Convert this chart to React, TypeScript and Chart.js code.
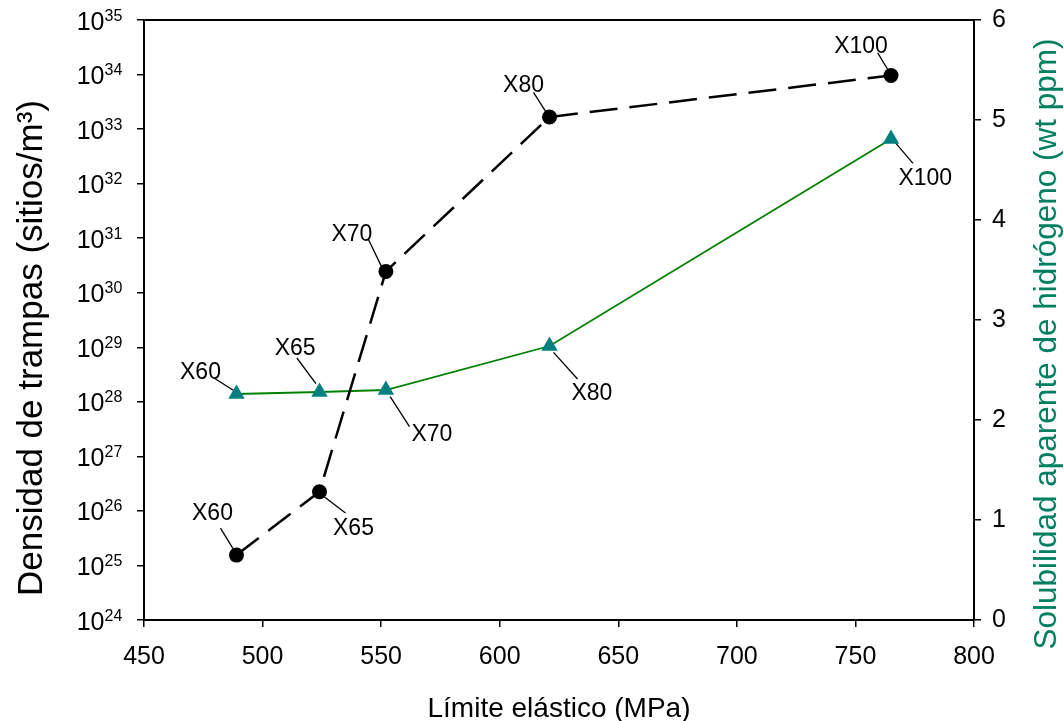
import React, { useEffect, useRef } from 'react';
import { Chart, registerables } from 'chart.js';

Chart.register(...registerables);

// ---- data ----
const grades = ['X60', 'X65', 'X70', 'X80', 'X100'];
const yieldStrengthMPa = [489, 524, 552, 621, 765];
const trapDensity = [1.55e25, 2.25e26, 2.46e30, 1.67e33, 9.6e33];
const hydrogenSolubility = [2.26, 2.28, 2.3, 2.74, 4.81];

const xTicks = [450, 500, 550, 600, 650, 700, 750, 800];
const densityExponents = [24, 25, 26, 27, 28, 29, 30, 31, 32, 33, 34, 35];
const solubilityTicks = [0, 1, 2, 3, 4, 5, 6];

const xTitle = 'Límite elástico (MPa)';
const densityTitle = 'Densidad de trampas (sitios/m³)';
const solubilityTitle = 'Solubilidad aparente de hidrógeno (wt ppm)';

// ---- callout placement (pixels relative to marker): [labelDx, labelDy, leadX1, leadY1, leadX2, leadY2]
const densityCallouts = [
  [-24, -43, -16, -27, -3.5, -6.5],
  [34, 35, 5, 5.3, 26, 21.3],
  [-34, -39, -17.7, -32.4, -4, -4],
  [-26, -33, -16, -24.6, -3.3, -4.5],
  [-30, -31, -13.3, -22.7, -3.3, -6],
];
const solubilityCallouts = [
  [-36, -23.5, -21.7, -15.5, -2, -3],
  [-24.3, -45, -22.6, -34, -3.6, -8.3],
  [46, 42.3, 4.3, 6.7, 23.6, 36.7],
  [42.4, 45.4, 4, 6.4, 28, 33],
  [34.3, 37.7, 4.3, 3.7, 22, 24.3],
];

const FONT = '"Liberation Sans", Arial, Helvetica, sans-serif';
const GREEN_TITLE = '#008060';

const calloutPlugin = {
  id: 'callouts',
  beforeDatasetsDraw(chart: any) {
    const { ctx, scales } = chart;
    ctx.save();
    ctx.strokeStyle = '#000';
    ctx.lineWidth = 1.3;
    ctx.setLineDash([]);
    const leaders = (vals: number[], axis: string, callouts: number[][]) => {
      vals.forEach((v, i) => {
        const px = scales.x.getPixelForValue(yieldStrengthMPa[i]);
        const py = scales[axis].getPixelForValue(v);
        const c = callouts[i];
        ctx.beginPath();
        ctx.moveTo(px + c[2], py + c[3]);
        ctx.lineTo(px + c[4], py + c[5]);
        ctx.stroke();
      });
    };
    leaders(trapDensity, 'y', densityCallouts);
    leaders(hydrogenSolubility, 'y1', solubilityCallouts);
    ctx.restore();
  },
  afterDraw(chart: any) {
    const { ctx, scales, chartArea } = chart;
    ctx.save();
    // top frame line
    ctx.strokeStyle = '#000';
    ctx.lineWidth = 2;
    ctx.beginPath();
    ctx.moveTo(chartArea.left, chartArea.top);
    ctx.lineTo(chartArea.right, chartArea.top);
    ctx.stroke();

    // callout labels
    ctx.fillStyle = '#000';
    ctx.font = `23px ${FONT}`;
    ctx.textAlign = 'center';
    ctx.textBaseline = 'alphabetic';
    const labels = (vals: number[], axis: string, callouts: number[][]) => {
      vals.forEach((v, i) => {
        const px = scales.x.getPixelForValue(yieldStrengthMPa[i]);
        const py = scales[axis].getPixelForValue(v);
        const c = callouts[i];
        ctx.fillText(grades[i], px + c[0], py + c[1] + 0.358 * 23);
      });
    };
    labels(trapDensity, 'y', densityCallouts);
    labels(hydrogenSolubility, 'y1', solubilityCallouts);

    // log tick labels 10^n
    densityExponents.forEach((e) => {
      const y = scales.y.getPixelForValue(Math.pow(10, e));
      ctx.font = `25px ${FONT}`;
      ctx.textAlign = 'right';
      ctx.fillText('10', 104.5, y + 9.5);
      ctx.font = `16px ${FONT}`;
      ctx.textAlign = 'left';
      ctx.fillText(String(e), 104.5, y + 0.5);
    });

    // x title
    ctx.font = `28px ${FONT}`;
    ctx.textAlign = 'center';
    ctx.fillText(xTitle, (chartArea.left + chartArea.right) / 2, 717);

    // left title
    ctx.save();
    ctx.font = `35px ${FONT}`;
    ctx.translate(31 + 0.358 * 32, 348);
    ctx.rotate(-Math.PI / 2);
    ctx.textAlign = 'center';
    ctx.fillText(densityTitle, 0, 0);
    ctx.restore();

    // right title
    ctx.save();
    ctx.font = `31.5px ${FONT}`;
    ctx.fillStyle = GREEN_TITLE;
    ctx.translate(1045 + 0.358 * 31, 344);
    ctx.rotate(-Math.PI / 2);
    ctx.textAlign = 'center';
    ctx.fillText(solubilityTitle, 0, 0);
    ctx.restore();

    ctx.restore();
  },
};

const gridOpts = {
  display: true,
  drawOnChartArea: false,
  drawTicks: true,
  tickLength: 7,
  color: '#000',
  lineWidth: 1.5,
};
const borderOpts = { display: true, color: '#000', width: 2 };

const noPadding = (s: any) => {
  s.paddingTop = 0;
  s.paddingBottom = 0;
  s.paddingLeft = 0;
  s.paddingRight = 0;
};

export default function App() {
  const ref = useRef<HTMLCanvasElement>(null);
  useEffect(() => {
    const chart = new Chart(ref.current as HTMLCanvasElement, {
      type: 'line',
      data: {
        datasets: [
          {
            label: 'Densidad de trampas',
            data: yieldStrengthMPa.map((x, i) => ({ x, y: trapDensity[i] })),
            yAxisID: 'y',
            borderColor: '#000',
            backgroundColor: '#000',
            borderWidth: 2.5,
            borderDash: [28, 12],
            pointStyle: 'circle',
            pointRadius: 7.5,
            pointHoverRadius: 7.5,
            pointBackgroundColor: '#000',
            pointBorderColor: '#000',
            pointBorderWidth: 0,
            fill: false,
            tension: 0,
          },
          {
            label: 'Solubilidad',
            data: yieldStrengthMPa.map((x, i) => ({ x, y: hydrogenSolubility[i] })),
            yAxisID: 'y1',
            borderColor: '#008000',
            backgroundColor: '#008080',
            borderWidth: 1.8,
            pointStyle: 'triangle',
            pointRadius: 9.5,
            pointHoverRadius: 9.5,
            pointBackgroundColor: '#008080',
            pointBorderColor: '#008080',
            pointBorderWidth: 0,
            fill: false,
            tension: 0,
          },
        ],
      } as any,
      options: {
        responsive: false,
        animation: false,
        devicePixelRatio: 1,
        layout: { padding: { top: 20, left: 0, right: 0, bottom: 0 } },
        plugins: { legend: { display: false }, tooltip: { enabled: false } },
        scales: {
          x: {
            type: 'linear',
            position: 'bottom',
            min: 450,
            max: 800,
            afterBuildTicks: (s: any) => {
              s.ticks = xTicks.map((v) => ({ value: v }));
            },
            afterFit: (s: any) => {
              s.height = 101;
              noPadding(s);
            },
            grid: gridOpts,
            border: borderOpts,
            ticks: {
              color: '#000',
              font: { family: FONT, size: 25 },
              padding: 15,
              maxRotation: 0,
              autoSkip: false,
            },
          },
          y: {
            type: 'logarithmic',
            position: 'left',
            min: 1e24,
            max: 1e35,
            afterBuildTicks: (s: any) => {
              s.ticks = densityExponents.map((e) => ({ value: Math.pow(10, e) }));
            },
            afterFit: (s: any) => {
              s.width = 144;
              noPadding(s);
            },
            grid: gridOpts,
            border: borderOpts,
            ticks: { callback: () => '', autoSkip: false },
          },
          y1: {
            type: 'linear',
            position: 'right',
            min: 0,
            max: 6,
            afterBuildTicks: (s: any) => {
              s.ticks = solubilityTicks.map((v) => ({ value: v }));
            },
            afterFit: (s: any) => {
              s.width = 90;
              noPadding(s);
            },
            grid: gridOpts,
            border: borderOpts,
            ticks: {
              color: '#000',
              font: { family: FONT, size: 25 },
              padding: 11,
              autoSkip: false,
            },
          },
        },
      } as any,
      plugins: [calloutPlugin],
    });
    return () => chart.destroy();
  }, []);
  return (
    <div style={{ position: 'fixed', left: 0, top: 0, width: 1064, height: 721, background: '#fff' }}>
      <canvas ref={ref} width={1064} height={721} style={{ display: 'block', width: 1064, height: 721 }} />
    </div>
  );
}
